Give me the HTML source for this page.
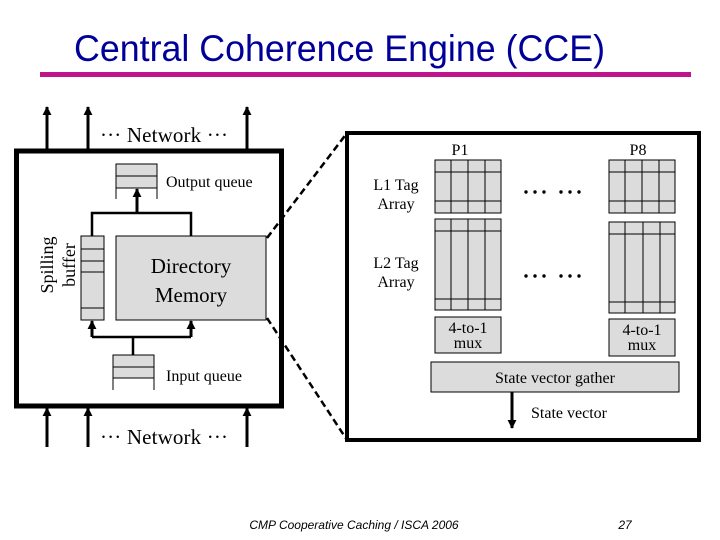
<!DOCTYPE html>
<html><head><meta charset="utf-8"><style>
html,body{margin:0;padding:0;background:#fff;}
svg{display:block;}
.s{font-family:"Liberation Serif",serif;fill:#000;}
</style></head><body>
<svg width="720" height="540" viewBox="0 0 720 540" xmlns="http://www.w3.org/2000/svg">
<defs>
<marker id="ah" viewBox="0 0 10 10" refX="9" refY="5" markerWidth="3" markerHeight="3" orient="auto"><path d="M0,0 L10,5 L0,10 z" fill="#000"/></marker>
</defs>
<text x="74" y="61" font-family="Liberation Sans, sans-serif" font-size="37" fill="#000099" textLength="531" lengthAdjust="spacingAndGlyphs">Central Coherence Engine (CCE)</text>
<rect x="40" y="72" width="651" height="5" fill="#c0148c"/>

<!-- left box -->
<rect x="16.5" y="151" width="265" height="255" fill="none" stroke="#000" stroke-width="5"/>
<g stroke="#000" stroke-width="3" marker-end="url(#ah)">
<line x1="47" y1="149" x2="47" y2="107"/>
<line x1="88" y1="149" x2="88" y2="107"/>
<line x1="247" y1="149" x2="247" y2="107"/>
<line x1="47" y1="447" x2="47" y2="408"/>
<line x1="88" y1="447" x2="88" y2="408"/>
<line x1="247" y1="447" x2="247" y2="408"/>
</g>
<text class="s" x="100" y="142" font-size="21" textLength="128">··· Network ···</text>
<text class="s" x="100" y="444" font-size="21" textLength="128">··· Network ···</text>

<!-- output queue -->
<rect x="116" y="164" width="41" height="24" fill="#dcdcdc" stroke="#000"/>
<line x1="116" y1="176" x2="157" y2="176" stroke="#000"/>
<line x1="116" y1="188" x2="116" y2="199" stroke="#000"/>
<line x1="157" y1="188" x2="157" y2="199" stroke="#000"/>
<text class="s" x="166" y="187" font-size="16">Output queue</text>
<line x1="137" y1="213" x2="137" y2="189" stroke="#000" stroke-width="3" marker-end="url(#ah)"/>
<polyline points="92,236 92,213 191,213 191,236" fill="none" stroke="#000" stroke-width="2.5"/>

<!-- spilling buffer -->
<rect x="81" y="236" width="23" height="84" fill="#dcdcdc" stroke="#000"/>
<g stroke="#000"><line x1="81" y1="249" x2="104" y2="249"/><line x1="81" y1="261" x2="104" y2="261"/><line x1="81" y1="272" x2="104" y2="272"/><line x1="81" y1="308" x2="104" y2="308"/></g>
<text class="s" font-size="18" transform="translate(53,265) rotate(-90)" text-anchor="middle">Spilling</text>
<text class="s" font-size="18" transform="translate(75,265) rotate(-90)" text-anchor="middle">buffer</text>

<!-- directory -->
<rect x="116" y="236" width="150" height="84" fill="#dcdcdc" stroke="#000"/>
<text class="s" x="191" y="273" font-size="21" text-anchor="middle">Directory</text>
<text class="s" x="191" y="302" font-size="21" text-anchor="middle">Memory</text>

<!-- bottom connectors -->
<polyline points="133,355 133,337" fill="none" stroke="#000" stroke-width="2.5"/>
<line x1="92" y1="337" x2="191" y2="337" stroke="#000" stroke-width="2.5"/>
<line x1="92" y1="337" x2="92" y2="321" stroke="#000" stroke-width="3" marker-end="url(#ah)"/>
<line x1="191" y1="337" x2="191" y2="321" stroke="#000" stroke-width="3" marker-end="url(#ah)"/>

<!-- input queue -->
<rect x="113" y="355" width="41" height="23" fill="#dcdcdc" stroke="#000"/>
<line x1="113" y1="367" x2="154" y2="367" stroke="#000"/>
<line x1="113" y1="378" x2="113" y2="390" stroke="#000"/>
<line x1="154" y1="378" x2="154" y2="390" stroke="#000"/>
<text class="s" x="166" y="381" font-size="16">Input queue</text>

<!-- dashed -->
<g stroke="#000" stroke-width="2.5" stroke-dasharray="7,4">
<line x1="267" y1="238" x2="347" y2="133"/>
<line x1="267" y1="318" x2="347" y2="440"/>
</g>

<!-- right box -->
<rect x="347" y="133" width="352" height="307" fill="none" stroke="#000" stroke-width="4"/>
<text class="s" x="460" y="155" font-size="16" text-anchor="middle">P1</text>
<text class="s" x="638" y="155" font-size="16" text-anchor="middle">P8</text>
<text class="s" x="396" y="190" font-size="16" text-anchor="middle">L1 Tag</text>
<text class="s" x="396" y="209" font-size="16" text-anchor="middle">Array</text>
<text class="s" x="396" y="268" font-size="16" text-anchor="middle">L2 Tag</text>
<text class="s" x="396" y="287" font-size="16" text-anchor="middle">Array</text>

<g stroke="#000" fill="#dcdcdc">
<rect x="435" y="160" width="66" height="53"/>
<rect x="609" y="160" width="66" height="53"/>
<rect x="435" y="219" width="66" height="91"/>
<rect x="609" y="222" width="66" height="91"/>
<rect x="435" y="317" width="66" height="36"/>
<rect x="609" y="319" width="66" height="37"/>
<rect x="431" y="362" width="248" height="30"/>
</g>
<g stroke="#000">
<line x1="435" y1="172" x2="501" y2="172"/><line x1="435" y1="201" x2="501" y2="201"/>
<line x1="451" y1="160" x2="451" y2="213"/><line x1="468" y1="160" x2="468" y2="213"/><line x1="485" y1="160" x2="485" y2="213"/>
<line x1="609" y1="172" x2="675" y2="172"/><line x1="609" y1="201" x2="675" y2="201"/>
<line x1="625" y1="160" x2="625" y2="213"/><line x1="642" y1="160" x2="642" y2="213"/><line x1="659" y1="160" x2="659" y2="213"/>
<line x1="435" y1="231" x2="501" y2="231"/><line x1="435" y1="299" x2="501" y2="299"/>
<line x1="451" y1="219" x2="451" y2="310"/><line x1="468" y1="219" x2="468" y2="310"/><line x1="485" y1="219" x2="485" y2="310"/>
<line x1="609" y1="234" x2="675" y2="234"/><line x1="609" y1="302" x2="675" y2="302"/>
<line x1="625" y1="222" x2="625" y2="313"/><line x1="643" y1="222" x2="643" y2="313"/><line x1="660" y1="222" x2="660" y2="313"/>
</g>
<g fill="#000">
<circle cx="526" cy="192" r="1.7"/><circle cx="535" cy="192" r="1.7"/><circle cx="544" cy="192" r="1.7"/>
<circle cx="561" cy="192" r="1.7"/><circle cx="570" cy="192" r="1.7"/><circle cx="579" cy="192" r="1.7"/>
<circle cx="526" cy="276" r="1.7"/><circle cx="535" cy="276" r="1.7"/><circle cx="544" cy="276" r="1.7"/>
<circle cx="561" cy="276" r="1.7"/><circle cx="570" cy="276" r="1.7"/><circle cx="579" cy="276" r="1.7"/>
</g>
<text class="s" x="468" y="333" font-size="16" text-anchor="middle">4-to-1</text>
<text class="s" x="468" y="348" font-size="16" text-anchor="middle">mux</text>
<text class="s" x="642" y="335" font-size="16" text-anchor="middle">4-to-1</text>
<text class="s" x="642" y="350" font-size="16" text-anchor="middle">mux</text>
<text class="s" x="555" y="383" font-size="16" text-anchor="middle">State vector gather</text>
<line x1="512" y1="392" x2="512" y2="428" stroke="#000" stroke-width="3" marker-end="url(#ah)"/>
<text class="s" x="531" y="418" font-size="16">State vector</text>

<text x="354" y="529" font-family="Liberation Sans, sans-serif" font-style="italic" font-size="12" text-anchor="middle">CMP Cooperative Caching / ISCA 2006</text>
<text x="625" y="529" font-family="Liberation Sans, sans-serif" font-style="italic" font-size="12" text-anchor="middle">27</text>
</svg>
</body></html>
